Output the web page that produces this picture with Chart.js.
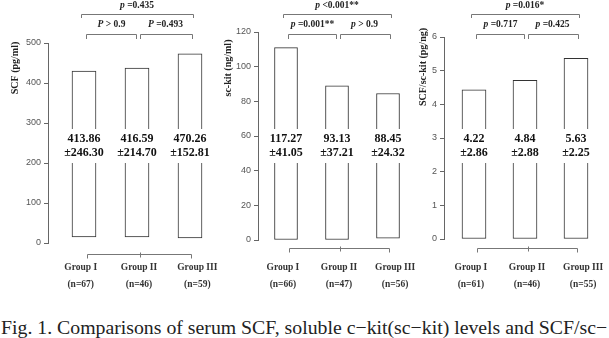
<!DOCTYPE html>
<html>
<head>
<meta charset="utf-8">
<script src="https://cdn.jsdelivr.net/npm/chart.js@4.4.1/dist/chart.umd.min.js"></script>
<style>
  body { margin: 0; background: #fff; width: 609px; height: 338px; overflow: hidden; position: relative; }
  canvas { position: absolute; top: 0; }
  #caption { position: absolute; left: 1px; top: 317px; font: 19.8px 'Liberation Serif', serif; line-height: 20px; white-space: nowrap; color: #222; }
</style>
</head>
<body>
<canvas id="scfChart" width="225" height="300" style="left:0"></canvas>
<canvas id="sckitChart" width="225" height="300" style="left:200px"></canvas>
<canvas id="ratioChart" width="209" height="300" style="left:400px"></canvas>
<div id="caption">Fig. 1. Comparisons of serum SCF, soluble c−kit(sc−kit) levels and SCF/sc−</div>
<script>
const groups = ['Group I', 'Group II', 'Group III'];

// SCF (pg/ml)
const scfN = ['(n=67)', '(n=46)', '(n=59)'];
const scfBars = [430, 437, 473];
const scfBase = [15, 15, 13];
const scfMean = ['413.86', '416.59', '470.26'];
const scfSd = ['±246.30', '±214.70', '±152.81'];
const scfP = ['P > 0.9', 'P =0.493', 'p =0.435'];   // I-II, II-III, I-III

// sc-kit (ng/ml)
const kitN = ['(n=66)', '(n=47)', '(n=56)'];
const kitBars = [111, 89, 84.5];
const kitBase = [0, 0, 1];
const kitMean = ['117.27', '93.13', '88.45'];
const kitSd = ['±41.05', '±37.21', '±24.32'];
const kitP = ['p =0.001**', 'p > 0.9', 'p <0.001**'];

// SCF/sc-kit (pg/ng)
const ratioN = ['(n=61)', '(n=46)', '(n=55)'];
const ratioBars = [4.43, 4.71, 5.37];
const ratioBase = [0, 0, 0];
const ratioMean = ['4.22', '4.84', '5.63'];
const ratioSd = ['±2.86', '±2.88', '±2.25'];
const ratioP = ['p =0.717', 'p =0.425', 'p =0.016*'];

const SERIF = '"Liberation Serif", serif';
const LINE = '#777';

function drawP(ctx, text, cx, cy) {
    // italic p, rest upright bold
    const head = text.charAt(0), rest = text.slice(1);
    ctx.font = 'italic bold 9.5px ' + SERIF;
    const w1 = ctx.measureText(head).width;
    ctx.font = 'bold 9.5px ' + SERIF;
    const w2 = ctx.measureText(rest).width;
    let x = cx - (w1 + w2) / 2;
    ctx.textAlign = 'left';
    ctx.textBaseline = 'middle';
    ctx.font = 'italic bold 9.5px ' + SERIF;
    ctx.fillText(head, x, cy);
    ctx.font = 'bold 9.5px ' + SERIF;
    ctx.fillText(rest, x + w1, cy);
}

function bracket(ctx, x1, x2, y, tick) {
    ctx.beginPath();
    ctx.moveTo(x1 + 0.5, y + tick);
    ctx.lineTo(x1 + 0.5, y + 0.5);
    ctx.lineTo(x2 + 0.5, y + 0.5);
    ctx.lineTo(x2 + 0.5, y + tick);
    ctx.stroke();
}

const decor = {
    id: 'decor',
    afterDatasetsDraw(chart, args, o) {
        const {ctx, chartArea} = chart;
        const bars = chart.getDatasetMeta(0).data;
        const c = bars.map(b => b.x);
        ctx.save();

        // mean ± SD written across the bars
        bars.forEach((bar, i) => {
            ctx.fillStyle = '#fff';
            ctx.fillRect(bar.x - bar.width / 2 - 2, 129, bar.width + 4, 34);
            ctx.fillStyle = '#111';
            ctx.font = 'bold 12px ' + SERIF;
            ctx.textAlign = 'center';
            ctx.textBaseline = 'middle';
            ctx.fillText(o.means[i], bar.x, 139);
            ctx.fillText(o.sds[i], bar.x, 153);
        });

        // significance brackets
        ctx.strokeStyle = LINE;
        ctx.lineWidth = 1;
        bracket(ctx, Math.round(c[0] - 3), Math.round(c[2] + 3), 14, 4);
        bracket(ctx, Math.round(c[0] + 2), Math.round(c[1] - 1), 34, 5);
        bracket(ctx, Math.round(c[1] + 3), Math.round(c[2] + 2), 34, 5);
        ctx.fillStyle = '#222';
        drawP(ctx, o.p[2], (c[0] + c[2]) / 2, 6);
        drawP(ctx, o.p[0], (c[0] + c[1]) / 2 + 1, 25);
        drawP(ctx, o.p[1], (c[1] + c[2]) / 2 + 2, 25);

        // group bracket under the axis
        const yb = Math.round(chartArea.bottom + o.groupLineDy) + 0.5;
        const x0 = Math.round(c[0] + 3) + 0.5, x1 = Math.round(c[1] + 3) + 0.5, x2 = Math.round(c[2] + 1) + 0.5;
        ctx.beginPath();
        ctx.moveTo(x0, yb + 4); ctx.lineTo(x0, yb); ctx.lineTo(x2, yb); ctx.lineTo(x2, yb + 4);
        ctx.moveTo(x1, yb - 2); ctx.lineTo(x1, yb + 3);
        ctx.stroke();

        // group names
        ctx.fillStyle = '#333';
        ctx.textAlign = 'center';
        ctx.textBaseline = 'middle';
        groups.forEach((g, i) => {
            const gx = c[1] + (c[i] - c[1]) * 1.1 + 2;
            ctx.font = 'bold 9.5px ' + SERIF;
            ctx.fillText(g, gx, 268);
            ctx.fillText(o.n[i], gx, 285);
        });

        // y axis title
        ctx.translate(chartArea.left - o.titleDx, o.titleY);
        ctx.rotate(-Math.PI / 2);
        ctx.fillStyle = '#222';
        ctx.font = 'bold 10px ' + SERIF;
        ctx.fillText(o.title, 0, 0);
        ctx.restore();
    }
};

function makePanel(id, p) {
    const canvas = document.getElementById(id);
    const left = parseInt(canvas.style.left) || 0;
    const axisX = p.axisX - left;
    const xMin = -(p.firstCenter - p.axisX) / p.unit;
    const xMax = xMin + (canvas.width - axisX) / p.unit;

    new Chart(canvas, {
        type: 'bar',
        data: {
            datasets: [{
                data: p.bars.map((v, i) => ({x: i, y: [p.base[i], v]})),
                backgroundColor: '#fff',
                borderColor: '#333',
                borderWidth: 1,
                borderSkipped: false,
                barThickness: p.barW
            }]
        },
        options: {
            responsive: false,
            animation: false,
            layout: { padding: { left: 0, right: 0, top: p.top, bottom: canvas.height - p.bottom } },
            plugins: {
                legend: { display: false },
                tooltip: { enabled: false },
                decor: {
                    means: p.means, sds: p.sds, p: p.p, n: p.n,
                    title: p.title, titleDx: p.titleDx, titleY: p.titleY,
                    groupLineDy: p.groupLineDy
                }
            },
            scales: {
                x: { type: 'linear', display: false, min: xMin, max: xMax, offset: false },
                y: {
                    min: 0, max: p.max,
                    ticks: { stepSize: p.step, color: '#555', padding: 3, font: { family: 'Liberation Sans', size: 9 } },
                    grid: { drawOnChartArea: false, tickLength: 4, color: '#666' },
                    border: { color: '#666' },
                    afterFit: s => { s.width = axisX; }
                }
            }
        },
        plugins: [decor]
    });
}

makePanel('scfChart', {
    bars: scfBars, base: scfBase, means: scfMean, sds: scfSd, p: scfP, n: scfN,
    max: 500, step: 100, title: 'SCF (pg/ml)',
    axisX: 48, firstCenter: 84, unit: 53, barW: 24, top: 43, bottom: 243,
    titleDx: 33, titleY: 68, groupLineDy: 11
});
makePanel('sckitChart', {
    bars: kitBars, base: kitBase, means: kitMean, sds: kitSd, p: kitP, n: kitN,
    max: 120, step: 20, title: 'sc-kit (ng/ml)',
    axisX: 258, firstCenter: 286, unit: 51, barW: 23, top: 32, bottom: 240,
    titleDx: 30, titleY: 68, groupLineDy: 8
});
makePanel('ratioChart', {
    bars: ratioBars, base: ratioBase, means: ratioMean, sds: ratioSd, p: ratioP, n: ratioN,
    max: 6, step: 1, title: 'SCF/sc-kit (pg/ng)',
    axisX: 444, firstCenter: 474, unit: 51, barW: 24, top: 37, bottom: 239,
    titleDx: 21, titleY: 67, groupLineDy: 9
});
</script>
</body>
</html>
